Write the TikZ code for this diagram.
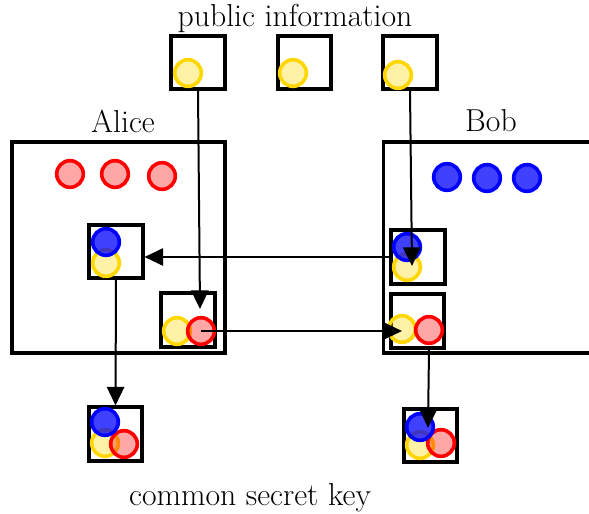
\documentclass[tikz,border=0pt]{standalone}
\usetikzlibrary{arrows.meta}
\definecolor{gold}{HTML}{FFD700}

\begin{document}
\begin{tikzpicture}[x=0.75pt, y=-0.75pt, ->, >={Triangle[length=14pt, width=13pt]}, line width=1.5pt,
  font=\fontsize{23.8}{28}\selectfont,
  box/.style={draw, line width=2.8pt, minimum size=40pt, inner sep=0pt},
  party/.style={draw, line width=2.8pt, minimum height=158pt, inner sep=0pt},
  gbit/.style={circle, draw=gold, fill=gold, fill opacity=0.35, line width=2.7pt, minimum size=20pt, inner sep=0pt},
  rbit/.style={circle, draw=red, fill=red, fill opacity=0.35, line width=2.7pt, minimum size=20pt, inner sep=0pt},
  bbit/.style={circle, draw=blue, fill=blue, fill opacity=0.75, line width=2.7pt, minimum size=20pt, inner sep=0pt}]
\clip (0,0) rectangle (589,514);

% public information
\node (pinfo) at (295,18) {public information};
\node[box] (pub1) at (198,62.5) {};
\node[box] (pub2) at (304.5,62.5) {};
\node[box] (pub3) at (410,62.5) {};
\node[gbit] (pg1) at (188,73) {};
\node[gbit] (pg2) at (293,73) {};
\node[gbit] (pg3) at (398,75) {};

% Alice
\node (alice) at (123,121) {Alice};
\node[party, minimum width=160pt] (abox) at (118.5,247.5) {};
\node[rbit] (ar1) at (70,174) {};
\node[rbit] (ar2) at (115,174) {};
\node[rbit] (ar3) at (162,176) {};
\node[box] (amix) at (116,251.5) {};
\node[gbit] (amixg) at (106,263) {};
\node[bbit] (amixb) at (106,242) {};
\node[box] (akey) at (188,320) {};
\node[gbit] (akeyg) at (177,331) {};
\node[rbit] (akeyr) at (201,331) {};

% Bob
\node (bob) at (491,121) {Bob};
\node[party, minimum width=180pt] (bbox) at (503.5,247.5) {};
\node[bbit] (bb1) at (447,177) {};
\node[bbit] (bb2) at (487,178) {};
\node[bbit] (bb3) at (527,178) {};
\node[box] (bmix) at (418,257) {};
\node[gbit] (bmixg) at (407,267) {};
\node[bbit] (bmixb) at (407,247) {};
\node[box] (bkey) at (417.5,321) {};
\node[gbit] (bkeyg) at (402,329) {};
\node[rbit] (bkeyr) at (429,330) {};

% common secret key
\node[box] (asec) at (115.5,434) {};
\node[gbit] (asecg) at (105,443) {};
\node[rbit] (asecr) at (124,444) {};
\node[bbit] (asecb) at (105,422) {};
\node[box] (bsec) at (430.5,435.5) {};
\node[gbit] (bsecg) at (420,445) {};
\node[rbit] (bsecr) at (441,443) {};
\node[bbit] (bsecb) at (420,427) {};
\node (secret) at (250,498) {common secret key};

% Edges
\coordinate (ain) at (200,309);
\coordinate (bin) at (412,266);
\coordinate (bout) at (428,428);
\draw (pub1.south) -- (ain);
\draw (pub3.south) -- (bin);
\draw (bmix.west) -- (amix.east |- bmix.west);
\draw (akeyr.center) -- (bkeyg.center |- akeyr.center);
\draw (amix.south) -- (asec.north);
\draw (bkeyr |- bkey.south) -- (bout);

\end{tikzpicture}
\end{document}
